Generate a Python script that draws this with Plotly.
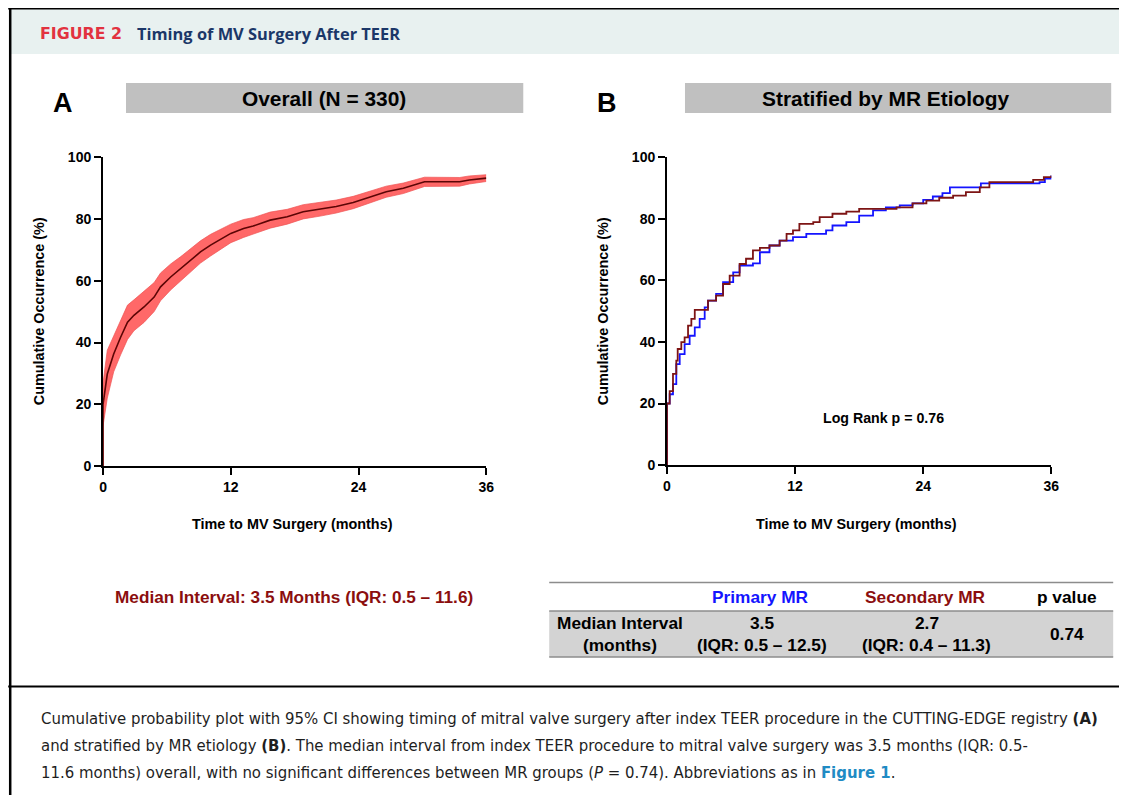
import plotly.graph_objects as go

# ---------------- Data ----------------
# Panel A: overall cumulative occurrence (%) with 95% CI
t_all = [0, 0, 0.4, 1.0, 1.65, 2.3, 2.9, 3.85, 4.8, 5.4, 6.35, 7.3, 8.2, 9.15, 10.1, 11.0,
         12.0, 13.2, 14.1, 15.7, 17.3, 18.8, 20.4, 21.9, 23.5, 25.1, 26.6, 28.2, 29.75,
         30.2, 33.5, 34.4, 36.0]
cum_all = [0, 20, 29.8, 36.3, 41.7, 46.6, 48.8, 51.5, 54.7, 58.0, 61.2, 63.9, 66.6, 69.3,
           71.5, 73.3, 75.3, 76.9, 77.7, 79.6, 80.7, 82.3, 83.1, 84.0, 85.3, 87.0, 88.8,
           89.9, 91.5, 92.0, 92.0, 92.6, 93.2]
ci_low_all = [0, 13, 22, 30.5, 36, 41, 43.8, 46.5, 50, 53.5, 57, 60, 62.8, 65.7, 68, 70,
              72.3, 74, 75, 77, 78.3, 80, 80.9, 81.9, 83.3, 85.1, 87, 88.2, 89.9, 90.5,
              90.6, 91.3, 92.1]
ci_up_all = [0, 27, 37.5, 42, 47.3, 52.1, 53.8, 56.5, 59.4, 62.5, 65.4, 67.8, 70.4, 72.9,
             75, 76.6, 78.3, 79.8, 80.4, 82.2, 83.1, 84.6, 85.3, 86.1, 87.3, 88.9, 90.6,
             91.6, 93.1, 93.5, 93.4, 93.9, 94.3]

# Panel B: stratified by MR etiology
t_primary = [0, 0, 0.25, 0.56, 0.87, 1.19, 1.65, 2.12, 2.6, 3.06, 3.53, 3.84, 4.6, 5.25,
             6.2, 6.8, 8.05, 8.7, 9.6, 10.55, 11.8, 13.05, 14.9, 15.5, 16.8, 18.0, 19.3,
             20.5, 21.8, 23.0, 24.0, 24.9, 25.8, 26.5, 29.1, 29.4, 34.9, 35.4, 36.0]
cum_primary = [0, 20, 23, 26.3, 32.8, 36, 39.3, 42, 44.7, 47.5, 51.2, 53.4, 55.6, 59.4,
               62.6, 64.8, 65.5, 69.1, 71.3, 72.9, 74.0, 75.1, 76.2, 77.8, 78.9, 81.0,
               82.7, 83.7, 84.3, 85.0, 86.1, 87.2, 88.3, 90.2, 90.2, 91.5, 91.9, 93.0, 94.0]
t_secondary = [0, 0, 0.25, 0.56, 0.87, 1.0, 1.34, 1.65, 1.97, 2.28, 2.6, 3.84, 4.6, 5.25,
               5.87, 6.8, 7.4, 8.05, 8.7, 9.6, 10.55, 11.2, 11.8, 12.4, 13.7, 14.3, 15.5,
               16.8, 18.0, 21.5, 23.0, 24.3, 25.5, 26.8, 28.0, 29.3, 30.2, 34.3, 35.3, 36.0]
cum_secondary = [0, 20, 24, 29.6, 33.9, 37.7, 39.9, 41.5, 45.3, 47.5, 50.4, 53.4, 55,
                 58.8, 61.5, 65.3, 67, 69.7, 70.5, 71.3, 72.9, 75.1, 76.2, 78.3, 78.9,
                 80.5, 81.6, 82.3, 83.2, 83.7, 85.0, 85.9, 86.8, 87.5, 88.6, 90.2, 91.9,
                 92.6, 93.5, 94.0]

x_ticks = [0, 12, 24, 36]
y_ticks = [0, 20, 40, 60, 80, 100]

table_cols = ["Primary MR", "Secondary MR", "p value"]
table_row_label = ["Median Interval", "(months)"]
table_primary = ["3.5", "(IQR: 0.5 – 12.5)"]
table_secondary = ["2.7", "(IQR: 0.4 – 11.3)"]
table_p = "0.74"

# ---------------- Layout helpers ----------------
# Page keeps its default 8px body margin; figure is sized to fit the window exactly.
OFF = 8
W, H = 1127 - 2 * OFF, 803 - 2 * OFF
# measured placement of the paper area on the page
PX0, PW = 10.8, 1101.0
PY0, PH = 15.9, 771.0
def px(x):
    return (x - PX0) / PW
def py(y):
    return 1 - (y - PY0) / PH

ARIAL = "Liberation Sans, Arial, sans-serif"
NARROW = "DejaVu Sans Condensed, Liberation Sans Narrow, sans-serif"
MAROON = "#8b0e0e"
BLUE = "#1414ff"

fig = go.Figure()

# Panel A: CI band + line
fig.add_trace(go.Scatter(x=t_all, y=ci_up_all, mode="lines", line=dict(color="#ee5555", width=0.7),
                         xaxis="x", yaxis="y", showlegend=False, hoverinfo="skip"))
fig.add_trace(go.Scatter(x=t_all, y=ci_low_all, mode="lines", line=dict(color="#ee5555", width=0.7),
                         fill="tonexty", fillcolor="#ff6868",
                         xaxis="x", yaxis="y", showlegend=False, hoverinfo="skip"))
fig.add_trace(go.Scatter(x=t_all, y=cum_all, mode="lines", line=dict(color="#5c0505", width=1.6),
                         xaxis="x", yaxis="y", showlegend=False))

# Panel B
fig.add_trace(go.Scatter(x=t_primary, y=cum_primary, mode="lines", line_shape="hv",
                         line=dict(color=BLUE, width=1.8), xaxis="x2", yaxis="y2",
                         showlegend=False, name="Primary MR"))
fig.add_trace(go.Scatter(x=t_secondary, y=cum_secondary, mode="lines", line_shape="hv",
                         line=dict(color="#7d1414", width=1.8), xaxis="x2", yaxis="y2",
                         showlegend=False, name="Secondary MR"))

axis_common = dict(showline=True, linecolor="black", linewidth=2, ticks="outside",
                   ticklen=7, tickwidth=2, tickcolor="black", showgrid=False, zeroline=False,
                   tickfont=dict(family=ARIAL, size=14, color="black", weight="bold"),
                   fixedrange=True)

fig.update_layout(
    width=W, height=H, margin=dict(l=0, r=0, t=0, b=0),
    paper_bgcolor="white", plot_bgcolor="white",
    xaxis=dict(domain=[px(102), px(486)], range=[0, 36], tickvals=x_ticks, anchor="y", **axis_common),
    yaxis=dict(domain=[py(466), py(157)], range=[0, 100], tickvals=y_ticks, anchor="x", **axis_common),
    xaxis2=dict(domain=[px(667), px(1052)], range=[0, 36], tickvals=x_ticks, anchor="y2", **axis_common),
    yaxis2=dict(domain=[py(465), py(157)], range=[0, 100], tickvals=y_ticks, anchor="x2", **axis_common),
)

shapes = []
# header band and frame
shapes.append(dict(type="rect", xref="paper", yref="paper", x0=px(9), x1=px(1135), y0=py(54), y1=py(8),
                   fillcolor="#e8f1f0", line=dict(width=0), layer="below"))
shapes.append(dict(type="line", xref="paper", yref="paper", x0=px(7), x1=px(1135), y0=py(8.5), y1=py(8.5),
                   line=dict(color="black", width=2)))
shapes.append(dict(type="line", xref="paper", yref="paper", x0=px(9), x1=px(9), y0=py(810), y1=py(7.5),
                   line=dict(color="black", width=2.5)))
shapes.append(dict(type="line", xref="paper", yref="paper", x0=px(7), x1=px(1135), y0=py(686.5), y1=py(686.5),
                   line=dict(color="black", width=2)))
# panel title boxes
shapes.append(dict(type="rect", xref="paper", yref="paper", x0=px(125), x1=px(523), y0=py(113), y1=py(83),
                   fillcolor="#c0c0c0", line=dict(width=0), layer="below"))
shapes.append(dict(type="rect", xref="paper", yref="paper", x0=px(685), x1=px(1112), y0=py(113), y1=py(83),
                   fillcolor="#c0c0c0", line=dict(width=0), layer="below"))
# table
shapes.append(dict(type="rect", xref="paper", yref="paper", x0=px(549), x1=px(1114), y0=py(657), y1=py(611),
                   fillcolor="#d3d3d3", line=dict(width=0), layer="below"))
for yy in (582.5, 611, 657):
    shapes.append(dict(type="line", xref="paper", yref="paper", x0=px(549), x1=px(1114), y0=py(yy), y1=py(yy),
                       line=dict(color="#8c8c8c", width=1.5)))

ann = []
def T(text, x, y, size, color="black", family=ARIAL, bold=True, xanchor="center", angle=0):
    ann.append(dict(text=text, x=px(x), y=py(y), xref="paper", yref="paper", showarrow=False,
                    xanchor=xanchor, yanchor="middle", textangle=angle,
                    font=dict(family=family, size=size, color=color, weight="bold" if bold else "normal")))

T("FIGURE 2", 37, 33, 15.8, color="#e2323f", family="DejaVu Sans, sans-serif", xanchor="left")
T("Timing of MV Surgery After TEER", 134, 33, 16.4, color="#1b3768", family="Open Sans, sans-serif", xanchor="left")
T("A", 62, 103, 27)
T("B", 607, 103, 27)
T("Overall (N = 330)", 323, 98, 20.9)
T("Stratified by MR Etiology", 886, 98, 20.9)
T("Cumulative Occurrence (%)", 38, 311, 14.4, angle=-90)
T("Cumulative Occurrence (%)", 603, 311, 14.4, angle=-90)
T("Time to MV Surgery (months)", 292, 524, 14.4)
T("Time to MV Surgery (months)", 857, 524, 14.4)
T("Log Rank p = 0.76", 884, 418, 14.2)
T("Median Interval: 3.5 Months (IQR: 0.5 – 11.6)", 293, 597, 17.2, color=MAROON)

TS = 17.3
T(table_cols[0], 761, 597, TS, color=BLUE)
T(table_cols[1], 926, 597, TS, color=MAROON)
T(table_cols[2], 1068, 597, TS)
T(table_row_label[0], 620, 623, TS)
T(table_row_label[1], 620, 645, TS)
T(table_primary[0], 762, 623, TS)
T(table_primary[1], 762, 645, TS)
T(table_secondary[0], 927, 623, TS)
T(table_secondary[1], 927, 645, TS)
T(table_p, 1068, 634, TS)

cap_color = "#1e1e1e"
CAP = 16.6
T("Cumulative probability plot with 95% CI showing timing of mitral valve surgery after index TEER "
  "procedure in the CUTTING-EDGE registry <b>(A)</b>", 38, 718, CAP, color=cap_color, family=NARROW,
  bold=False, xanchor="left")
T("and stratified by MR etiology <b>(B)</b>. The median interval from index TEER procedure to mitral "
  "valve surgery was 3.5 months (IQR: 0.5-", 38, 745, CAP, color=cap_color, family=NARROW,
  bold=False, xanchor="left")
T("11.6 months) overall, with no significant differences between MR groups (<i>P</i> = 0.74). "
  "Abbreviations as in <b><span style='color:#1f8bc4'>Figure 1</span></b>.", 38, 772, CAP,
  color=cap_color, family=NARROW, bold=False, xanchor="left")

fig.update_layout(shapes=shapes, annotations=ann)

fig.write_html("out.html", config={"displayModeBar": False})
